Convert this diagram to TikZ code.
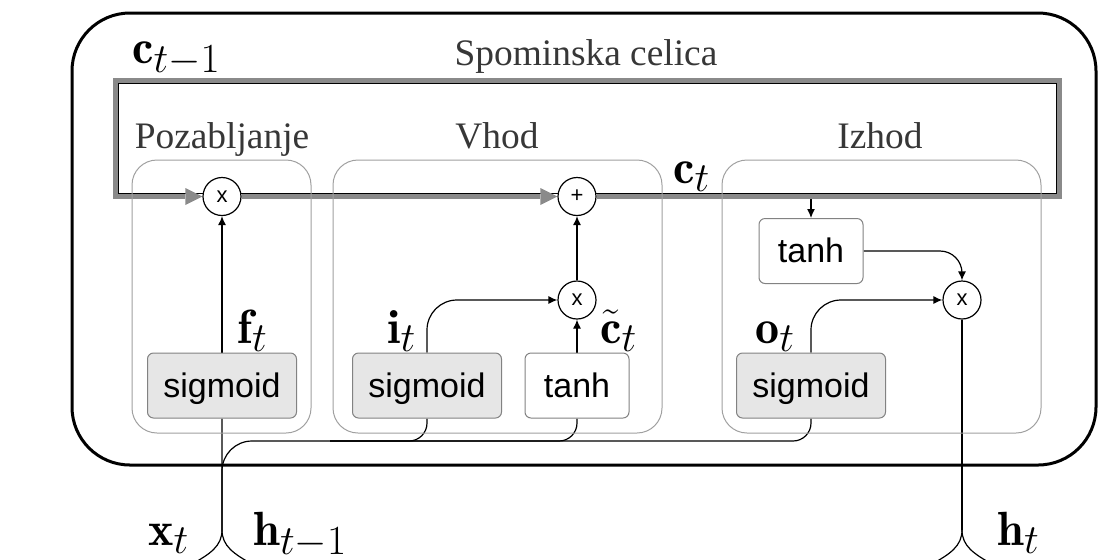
\documentclass[tikz,border=0pt]{standalone}
\usepackage{fontspec}
\newfontfamily\serifT{Liberation Serif}
\newfontfamily\sansT{Liberation Sans}
\DeclareMathSizes{24}{24}{20.74}{14.4}
\usetikzlibrary{arrows.meta,backgrounds}
\definecolor{cellgray}{RGB}{138,138,138}
\definecolor{sigfill}{RGB}{230,230,230}
\definecolor{boxgray}{RGB}{160,160,160}
\definecolor{actgray}{RGB}{130,130,130}
\definecolor{txtgray}{RGB}{55,55,55}
\tikzset{
  gate/.style={draw=boxgray, line width=0.5pt, rounded corners=12.5pt, minimum width=#1, minimum height=136.5pt, inner sep=0pt},
  act/.style={draw=actgray, line width=0.5pt, rounded corners=3pt, minimum height=32.5pt, inner sep=0pt, text height=11.5pt, text depth=0pt, font=\sansT\fontsize{17}{19}\selectfont},
  sig/.style={act, fill=sigfill, minimum width=74.5pt},
  tnh/.style={act, fill=white, minimum width=52pt},
  op/.style={circle, draw=black, line width=0.6pt, fill=white, minimum size=19pt, inner sep=0pt, font=\sansT\fontsize{11}{13}\selectfont},
  lbl/.style={font=\serifT\fontsize{18.7}{21}\selectfont, text=txtgray, inner sep=0pt, anchor=base},
  mlbl/.style={font=\fontsize{24}{28}\selectfont, inner sep=0pt, anchor=base west},
  conn/.style={draw=black, line width=0.6pt},
  arr/.style={conn, -{Latex[length=4.5pt,width=4pt]}},
  cell/.style={draw=cellgray, line width=2.5pt},
  garr/.style={cell, -{Triangle[length=8.5pt,width=8.5pt,line width=0pt]}},
}
\begin{document}
\begin{tikzpicture}[x=0.5pt,y=-0.5pt]
\useasboundingbox (0,0) rectangle (1098,559);

% outer memory cell
\node[draw=black, line width=1.5pt, rounded corners=29pt, minimum width=512pt, minimum height=226pt, inner sep=0pt] (cellbox) at (584,239) {};

% gate boxes
\node[gate=89.5pt] (fbox) at (221.5,296.5) {};
\node[gate=164.5pt] (ibox) at (497.5,296.5) {};
\node[gate=159.5pt] (obox) at (881.5,296.5) {};

% operations
\node[op] (times1) at (222,196.5) {x};
\node[op] (plus) at (577,196.5) {+};
\node[op] (times2) at (577,300) {x};
\node[op] (times3) at (962,300) {x};

% activations
\node[sig] (sig1) at (222,385.5) {sigmoid};
\node[sig] (sig2) at (427,385.5) {sigmoid};
\node[tnh] (tanh1) at (577,385.5) {tanh};
\node[sig] (sig3) at (811,385.5) {sigmoid};
\node[tnh] (tanh2) at (811,251) {tanh};

% text labels
\node[lbl] (title) at (586,65) {Spominska celica};
\node[lbl] (lf) at (222,148) {Pozabljanje};
\node[lbl] (li) at (497,148) {Vhod};
\node[lbl] (lo) at (880,148) {Izhod};

% math labels
\node[mlbl] (cprev) at (132,63) {$\mathbf{c}_{t-1}$};
\node[mlbl] (cnow) at (673,183) {$\mathbf{c}_t$};
\node[mlbl] (ft) at (237,343) {$\mathbf{f}_t$};
\node[mlbl] (it) at (387,343) {$\mathbf{i}_t$};
\node[mlbl] (ctil) at (600,343) {$\tilde{\mathbf{c}}_t$};
\node[mlbl] (ot) at (755,343) {$\mathbf{o}_t$};
\node[mlbl] (xt) at (148,545) {$\mathbf{x}_t$};
\node[mlbl] (hprev) at (253,545) {$\mathbf{h}_{t-1}$};
\node[mlbl] (ht) at (997,545) {$\mathbf{h}_t$};

% coordinates
\coordinate (cBR) at (1059.5,196.5);
\coordinate (cTR) at (1059.5,80.5);
\coordinate (cTL) at (115.5,80.5);
\coordinate (cBL) at (115.5,196.5);
\coordinate (ctap) at (811,199);
\coordinate (xsplit) at (222,530);
\coordinate (xin) at (192,564);
\coordinate (hin) at (252,564);
\coordinate (bus) at (330,441);
\coordinate (hsplit) at (962,530);
\coordinate (hL) at (932,564);
\coordinate (hR) at (992,564);

\begin{pgfonlayer}{background}
  % cell state line
  \draw[black, line width=0.5pt] (118.5,83.5) rectangle (1056.5,193.5);
  \draw[garr] (plus.east) -- (cBR) -- (cTR) -- (cTL) -- (cBL) -- (times1.west);
  \draw[garr] (times1.east) -- (plus.west);
  \draw[arr] (ctap) -- (tanh2.north);

  % inputs
  \draw[conn] (xin) .. controls (210,554) and (222,546) .. (xsplit) -- (sig1.south);
  \draw[conn] (hin) .. controls (234,554) and (222,546) .. (xsplit);
  \draw[conn, rounded corners=15pt] (xsplit) |- (bus);
  \draw[conn, rounded corners=9pt] (bus) -| (sig2.south);
  \draw[conn, rounded corners=9pt] (bus) -| (tanh1.south);
  \draw[conn, rounded corners=9pt] (bus) -| (sig3.south);

  % gates
  \draw[arr] (sig1.north) -- (times1.south);
  \draw[arr, rounded corners=15pt] (sig2.north) |- (times2.west);
  \draw[arr] (tanh1.north) -- (times2.south);
  \draw[arr] (times2.north) -- (plus.south);
  \draw[arr, rounded corners=11pt] (tanh2.east) -| (times3.north);
  \draw[arr, rounded corners=15pt] (sig3.north) |- (times3.west);

  % output
  \draw[conn] (times3.south) -- (hsplit);
  \draw[conn] (hsplit) .. controls (962,546) and (950,554) .. (hL);
  \draw[conn] (hsplit) .. controls (962,546) and (974,554) .. (hR);
\end{pgfonlayer}
\end{tikzpicture}
\end{document}
